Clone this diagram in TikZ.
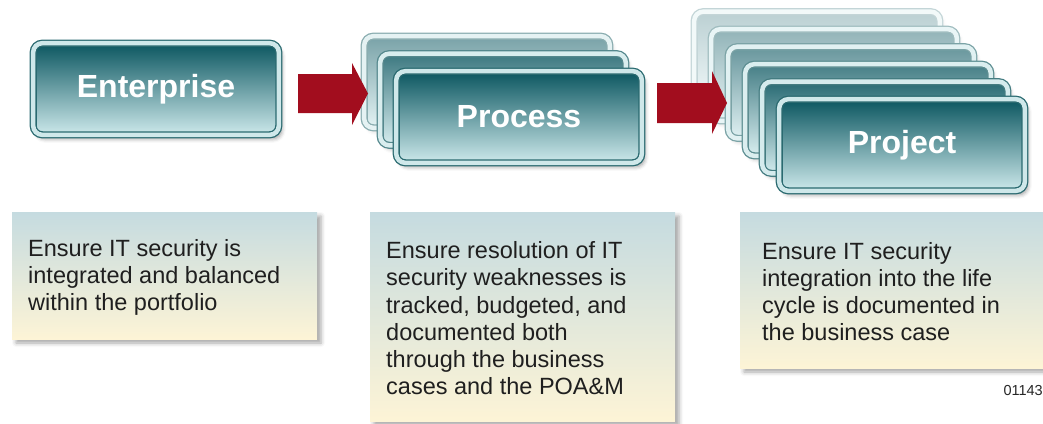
\documentclass[tikz,border=0pt]{standalone}
\usepackage{fontspec}
\setmainfont{Liberation Sans}
\usetikzlibrary{shadows.blur}
\definecolor{tealtop}{HTML}{0B5660}
\definecolor{tealbot}{HTML}{CDE9EB}
\definecolor{tealrim}{HTML}{CFE8EA}
\definecolor{tealedge}{HTML}{2A6A70}
\definecolor{arrowred}{HTML}{A20D1E}
\definecolor{infotop}{HTML}{C5DBE0}
\definecolor{infobot}{HTML}{FDF4D6}
\tikzset{
  tealbox/.style n args={2}{rounded corners=9pt, minimum width=245.6pt, minimum height=91.6pt,
    inner sep=0pt, line width=1.3pt, double distance=4.5pt,
    draw=tealedge!#1!white, double=tealrim!#1!white,
    top color=tealtop!#1!white, bottom color=tealbot!#1!white,
    blur shadow={shadow xshift=3pt, shadow yshift=-4pt, shadow blur radius=4pt, shadow opacity=#2},
    font=\bfseries\fontsize{32}{36}\selectfont, text=white},
  infobox/.style={rectangle, inner sep=0pt, draw=none,
    top color=infotop, bottom color=infobot,
    blur shadow={shadow xshift=4pt, shadow yshift=-4pt, shadow blur radius=4pt, shadow opacity=35}},
  infotext/.style={anchor=north west, align=left, inner sep=0pt,
    font=\fontsize{23.5}{27.2}\selectfont, text=black!88},
  blockarrow/.style={fill=arrowred, draw=none}
}
\begin{document}
\begin{tikzpicture}[x=1pt,y=-1pt]
\useasboundingbox (0,0) rectangle (1043,423);
% Process back boxes
\node[tealbox={55}{18}] (proc2) at (487,82) {};
\node[tealbox={80}{28}] (proc1) at (503,99.5) {};
% Project back boxes
\node[tealbox={28}{10}] (proj5) at (817,57.5) {};
\node[tealbox={45}{15}] (proj4) at (834,75) {};
\node[tealbox={62}{20}] (proj3) at (851,92.5) {};
\node[tealbox={76}{26}] (proj2) at (868,110) {};
\node[tealbox={88}{32}] (proj1) at (885,127.5) {};
% arrows
\coordinate (a1) at (298,74);
\fill[blockarrow] (a1) -- (352,74) -- (352,63) -- (368,93.5) -- (352,125) -- (352,113) -- (298,113) -- cycle;
\coordinate (a2) at (657,83);
\fill[blockarrow] (a2) -- (712,83) -- (712,71) -- (727,103) -- (712,134) -- (712,123) -- (657,123) -- cycle;
% front boxes
\node[tealbox={100}{40}] (ent) at (156,89) {Enterprise};
\node[tealbox={100}{40}] (proc) at (519,117) {Process};
\node[tealbox={100}{40}] (proj) at (902,145) {Project};
% info boxes
\node[infobox, minimum width=305pt, minimum height=127pt] (info1) at (164.5,275.5) {};
\node[infobox, minimum width=305pt, minimum height=209pt] (info2) at (522.5,316.5) {};
\node[infobox, minimum width=305pt, minimum height=156pt] (info3) at (892.5,290) {};
\node[infotext] (t1) at (28,239) {Ensure IT security is\\integrated and balanced\\within the portfolio};
\node[infotext] (t2) at (386,241.5) {Ensure resolution of IT\\security weaknesses is\\tracked, budgeted, and\\documented both\\through the business\\cases and the POA\&M};
\node[infotext] (t3) at (762,242) {Ensure IT security\\integration into the life\\cycle is documented in\\the business case};
\node[anchor=base east, inner sep=0pt, font=\fontsize{14.5}{17}\selectfont, text=black!85] (code) at (1043,395) {01143};
\end{tikzpicture}
\end{document}
